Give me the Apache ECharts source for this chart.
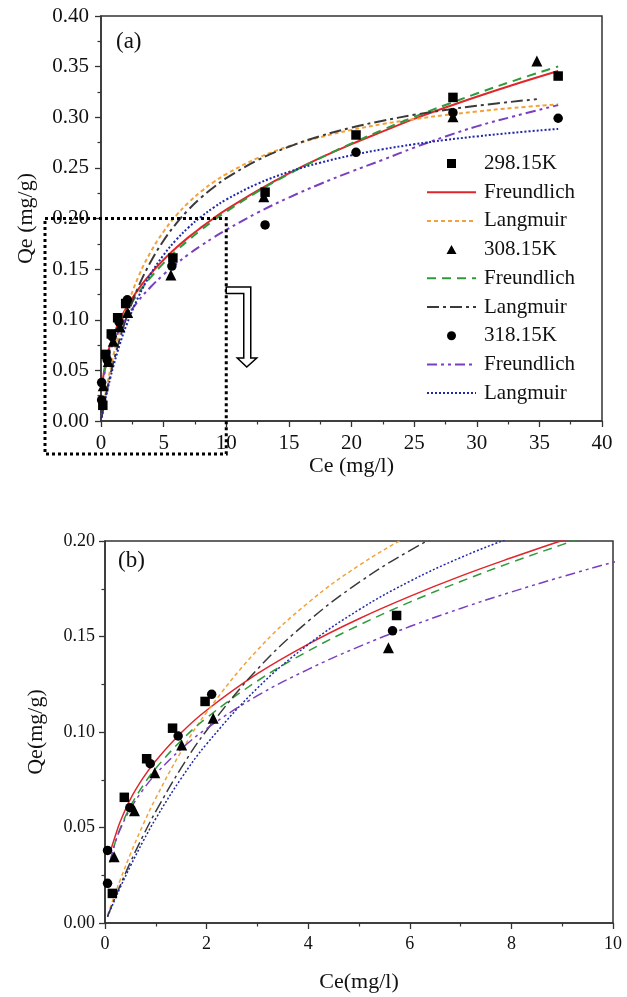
<!DOCTYPE html>
<html><head><meta charset="utf-8">
<script src="https://cdn.jsdelivr.net/npm/echarts@6/dist/echarts.min.js"></script>
<style>html,body{margin:0;padding:0;background:#fff}#c{width:627px;height:997px}</style>
</head><body><div id="c"></div>
<script>
// ---- experimental points ----
const ce298 = [0.145, 0.38, 0.82, 1.33, 1.97, 5.74, 13.1, 20.36, 28.1, 36.5];
const qe298 = [0.0155, 0.0658, 0.086, 0.102, 0.116, 0.161, 0.226, 0.2825, 0.3196, 0.3407];
const ce308 = [0.18, 0.58, 0.98, 1.51, 2.13, 5.58, 13.0, 28.1, 34.8];
const qe308 = [0.0347, 0.0588, 0.0787, 0.0932, 0.1072, 0.1441, 0.2215, 0.3006, 0.3556];
const ce318 = [0.05, 0.05, 0.49, 0.89, 1.44, 2.10, 5.66, 13.1, 20.36, 28.1, 36.5];
const qe318 = [0.0208, 0.038, 0.0604, 0.0834, 0.0979, 0.1197, 0.153, 0.1936, 0.2654, 0.3045, 0.299];
// ---- fitted curves ----
const ceFit = [0.05,0.1,0.2,0.3,0.5,0.75,1,1.5,2,3,4,5,6,7,8,9,10,12.5,15,17.5,20,22.5,25,27.5,30,33,36.5];
const ceFitL308 = [0.05,0.1,0.2,0.3,0.5,0.75,1,1.5,2,3,4,5,6,7,8,9,10,12.5,15,17.5,20,22.5,25,27.5,30,34.8];
const fre298 = [null,0.037,0.0454,0.0531,0.0649,0.076,0.085,0.0996,0.1114,0.1305,0.146,0.1593,0.171,0.1816,0.1912,0.2003,0.2087,0.2275,0.2446,0.2598,0.2734,0.286,0.2984,0.3096,0.3203,0.3324,0.3457];
const lan298 = [0.004,0.0079,0.0154,0.0226,0.0361,0.0515,0.0654,0.0898,0.1103,0.1429,0.1677,0.1872,0.2029,0.2159,0.2268,0.236,0.2439,0.2597,0.2713,0.2803,0.2875,0.2933,0.2981,0.3022,0.3057,0.3093,0.3128];
const fre308 = [null,0.0317,0.0421,0.0496,0.0611,0.072,0.081,0.0955,0.1074,0.1267,0.1424,0.1559,0.168,0.1788,0.1888,0.1981,0.2068,0.2265,0.2439,0.2597,0.2742,0.2876,0.3003,0.3121,0.3234,0.3362,0.3502];
const lan308 = [0.0034,0.0068,0.0134,0.0197,0.0318,0.0457,0.0584,0.0812,0.1008,0.1329,0.158,0.1783,0.195,0.2089,0.2208,0.2309,0.2398,0.2576,0.2709,0.2814,0.2898,0.2966,0.3024,0.3072,0.3114,0.3179];
const fre318 = [null,0.0322,0.042,0.0491,0.0598,0.0698,0.078,0.0911,0.1018,0.119,0.1328,0.1447,0.1552,0.1647,0.1733,0.1813,0.1888,0.2058,0.2207,0.2341,0.2464,0.258,0.27,0.281,0.291,0.301,0.312];
const lan318 = [0.0032,0.0064,0.0126,0.0186,0.0298,0.0428,0.0547,0.0757,0.0937,0.123,0.1458,0.164,0.1789,0.1913,0.2018,0.2109,0.2187,0.2343,0.246,0.2551,0.2624,0.2684,0.2733,0.2775,0.2811,0.2848,0.2885];
const legendNames = ['298.15K','Freundlich|298','Langmuir|298','308.15K','Freundlich|308','Langmuir|308','318.15K','Freundlich|318','Langmuir|318'];
const legendIcons = ['path://M0,0L10,0L10,10L0,10Z', null, null, 'path://M5,0L10,9L0,9Z', null, null, 'circle', null, null];

const FONT = 'Liberation Serif';
const pairs = (xs, ys) => xs.map((x, i) => ys[i] == null ? null : [x, ys[i]]).filter(p => p);

function makeSeries(g, lw) {
  const sc = (name, xs, ys, sym) => ({
    name, type: 'scatter', xAxisIndex: g, yAxisIndex: g, symbol: sym, symbolSize: sym === 'triangle' ? 11 : 9.5,
    itemStyle: { color: '#000', opacity: 1 }, data: pairs(xs, ys), z: 5
  });
  const ln = (name, xs, ys, color, dash) => ({
    name, type: 'line', xAxisIndex: g, yAxisIndex: g, symbol: 'none', smooth: 0.4,
    itemStyle: { color }, lineStyle: { color, width: lw, type: dash }, data: pairs(xs, ys), z: 3
  });
  return [
    sc('298.15K', ce298, qe298, 'rect'),
    ln('Freundlich|298', ceFit, fre298, '#e0262b', 'solid'),
    ln('Langmuir|298', ceFit, lan298, '#f2a23a', [4, 3]),
    sc('308.15K', ce308, qe308, 'triangle'),
    ln('Freundlich|308', ceFit, fre308, '#2f9a3c', [9, 6]),
    ln('Langmuir|308', ceFitL308, lan308, '#3a3a3a', [12, 4, 3, 4]),
    sc('318.15K', ce318, qe318, 'circle'),
    ln('Freundlich|318', ceFit, fre318, '#7a3fc0', [10, 4, 3, 4, 3, 4]),
    ln('Langmuir|318', ceFit, lan318, '#1f28a8', [2, 2])
  ];
}

const axisCommon = (fs) => ({
  axisLine: { show: true, onZero: false, lineStyle: { color: '#333', width: 1.5 } },
  axisTick: { show: true, length: 6, lineStyle: { color: '#333', width: 1.3 } },
  minorTick: { show: true, splitNumber: 2, length: 3.5, lineStyle: { color: '#333', width: 1.2 } },
  splitLine: { show: false },
  axisLabel: { fontFamily: FONT, fontSize: fs, color: '#111', margin: 12 },
  nameTextStyle: { fontFamily: FONT, fontSize: 22, color: '#111' }
});

const chart = echarts.init(document.getElementById('c'), null, { renderer: 'canvas' });
const option = {
  animation: false,
  backgroundColor: '#fff',
  grid: [
    { left: 101, top: 16, width: 501, height: 405, show: true, borderColor: '#333', borderWidth: 1.5, backgroundColor: 'transparent' },
    { left: 105, top: 541, width: 508, height: 382, show: true, borderColor: '#333', borderWidth: 1.5, backgroundColor: 'transparent' }
  ],
  xAxis: [
    Object.assign(axisCommon(21), { type: 'value', gridIndex: 0, min: 0, max: 40, interval: 5,
      name: 'Ce (mg/l)', nameLocation: 'middle', nameGap: 33 }),
    Object.assign(axisCommon(18), { type: 'value', gridIndex: 1, min: 0, max: 10, interval: 2,
      name: 'Ce(mg/l)', nameLocation: 'middle', nameGap: 48 })
  ],
  yAxis: [
    Object.assign(axisCommon(21), { type: 'value', gridIndex: 0, min: 0, max: 0.4, interval: 0.05,
      name: 'Qe (mg/g)', nameLocation: 'middle', nameGap: 64,
      axisLabel: { fontFamily: FONT, fontSize: 21, color: '#111', margin: 12, formatter: v => v.toFixed(2) } }),
    Object.assign(axisCommon(18), { type: 'value', gridIndex: 1, min: 0, max: 0.2, interval: 0.05,
      name: 'Qe(mg/g)', nameLocation: 'middle', nameGap: 58,
      axisLabel: { fontFamily: FONT, fontSize: 18, color: '#111', margin: 10, formatter: v => v.toFixed(2) } })
  ],
  legend: {
    orient: 'vertical', left: 426, top: 153, padding: 0,
    itemWidth: 49, itemHeight: 9, itemGap: 7.7, symbolKeepAspect: true,
    data: legendNames.map((n, i) => legendIcons[i]
      ? { name: n, icon: legendIcons[i], itemStyle: { color: '#000', opacity: 1 } }
      : { name: n, itemStyle: { opacity: 0 } }),
    formatter: n => n.split('|')[0],
    textStyle: { fontFamily: FONT, fontSize: 21, color: '#111', lineHeight: 21, padding: [0, 0, 0, 3] }
  },
  series: makeSeries(0, 2).concat(makeSeries(1, 1.5))
};
chart.setOption(option);

// decorations: panel labels, zoom box and arrow
const p10 = chart.convertToPixel({ gridIndex: 0 }, [10, 0.2]);
const bx = p10[0], by = p10[1];
const ax = bx, ay = 287;
chart.setOption({
  graphic: [
    { type: 'text', left: 116, top: 30, style: { text: '(a)', fontFamily: FONT, fontSize: 23, fill: '#111' } },
    { type: 'text', left: 118, top: 549, style: { text: '(b)', fontFamily: FONT, fontSize: 23, fill: '#111' } },
    { type: 'rect', shape: { x: 45, y: by, width: bx - 45, height: 454 - by },
      style: { fill: 'none', stroke: '#000', lineWidth: 3, lineDash: [3, 3] }, z: 10 },
    { type: 'polygon', shape: { points: [
        [ax, ay], [ax + 24.5, ay], [ax + 24.5, ay + 71], [ax + 30.5, ay + 71], [ax + 20.5, ay + 80],
        [ax + 11, ay + 71], [ax + 17.5, ay + 71], [ax + 17.5, ay + 6.5], [ax, ay + 6.5] ] },
      style: { fill: '#fff', stroke: '#000', lineWidth: 1.5 }, z: 10 }
  ]
});
</script></body></html>
